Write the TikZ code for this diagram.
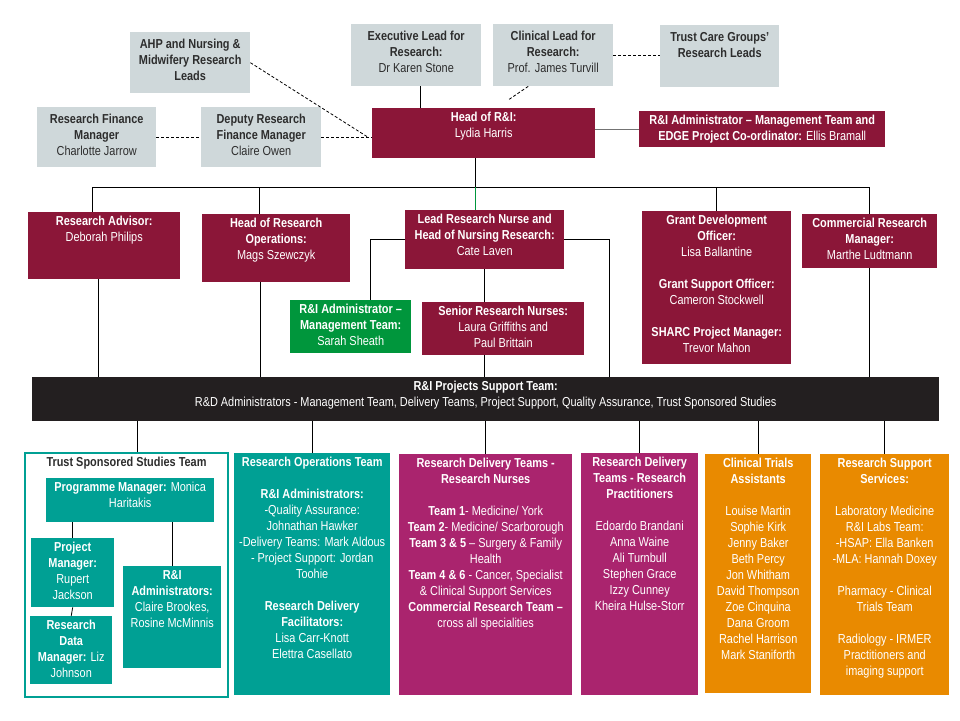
\documentclass[tikz,border=0pt]{standalone}
\usepackage{fontspec}
\setmainfont{Liberation Sans}[FakeStretch=0.84]
\usetikzlibrary{positioning}
\definecolor{maroon}{RGB}{139,22,56}
\definecolor{greybox}{RGB}{207,216,218}
\definecolor{admgreen}{RGB}{0,150,60}
\definecolor{tssteal}{RGB}{0,160,148}
\definecolor{plum}{RGB}{170,36,110}
\definecolor{amber}{RGB}{233,138,0}
\definecolor{barblack}{RGB}{35,31,32}
\definecolor{greytext}{RGB}{45,45,45}
\newcommand{\boxtext}[3]{\parbox[t][#2][t]{#1}{\centering #3}}
\tikzstyle{box} = [draw=none, anchor=north west, inner xsep=1pt, inner ysep=4pt, font=\fontsize{13}{16}\selectfont, text=white]
\tikzstyle{mgt} = [box, fill=maroon]
\tikzstyle{adv} = [box, fill=greybox, text=greytext, inner ysep=7pt]
\tikzstyle{tss} = [box, fill=tssteal]
\tikzstyle{del} = [box, fill=plum]
\tikzstyle{cta} = [box, fill=amber]
\tikzstyle{link} = [draw=black, line width=0.8pt]
\tikzstyle{dlink} = [link, dash pattern=on 3pt off 2pt]

\begin{document}
\begin{tikzpicture}[x=1pt,y=-1pt]
\useasboundingbox (0,0) rectangle (960,720);

% advisory boxes
\node[adv] (ahp) at (130,32) {\boxtext{118pt}{47pt}{\textbf{AHP and Nursing \&\\Midwifery Research\\Leads}}};
\node[adv] (exec) at (351,24) {\boxtext{128pt}{48pt}{\textbf{Executive Lead for\\Research:}\\Dr Karen Stone}};
\node[adv] (clin) at (493,24) {\boxtext{118pt}{48pt}{\textbf{Clinical Lead for\\Research:}\\Prof. James Turvill}};
\node[adv] (tcg) at (660,25) {\boxtext{117pt}{48pt}{\textbf{Trust Care Groups'\\Research Leads}}};
\node[adv] (rfm) at (37,107) {\boxtext{117pt}{46pt}{\textbf{Research Finance\\Manager}\\Charlotte Jarrow}};
\node[adv] (drfm) at (201,107) {\boxtext{118pt}{46pt}{\textbf{Deputy Research\\Finance Manager}\\Claire Owen}};

% management
\node[mgt] (hri) at (372,108) {\boxtext{221pt}{42pt}{\textbf{Head of R\&I:}\\Lydia Harris}};
\node[mgt] (edge) at (639,111) {\boxtext{244pt}{28pt}{\textbf{R\&I Administrator -- Management Team and\\EDGE Project Co-ordinator:} Ellis Bramall}};
\node[mgt] (radv) at (28,212) {\boxtext{150pt}{59pt}{\textbf{Research Advisor:}\\Deborah Philips}};
\node[mgt] (hro) at (202,214) {\boxtext{146pt}{60pt}{\textbf{Head of Research\\Operations:}\\Mags Szewczyk}};
\node[mgt] (lrn) at (405,210) {\boxtext{157pt}{51pt}{\textbf{Lead Research Nurse and\\Head of Nursing Research:}\\Cate Laven}};
\node[box, fill=admgreen] (adm) at (290,300) {\boxtext{119pt}{45pt}{\textbf{R\&I Administrator --\\Management Team:}\\Sarah Sheath}};
\node[mgt] (srn) at (422,302) {\boxtext{160pt}{45pt}{\textbf{Senior Research Nurses:}\\Laura Griffiths and\\Paul Brittain}};
\node[mgt] (gdo) at (642,211) {\boxtext{147pt}{145pt}{\textbf{Grant Development\\Officer:}\\Lisa Ballantine\\[16pt]\textbf{Grant Support Officer:}\\Cameron Stockwell\\[16pt]\textbf{SHARC Project Manager:}\\Trevor Mahon}};
\node[mgt] (crm) at (802,214) {\boxtext{133pt}{46pt}{\textbf{Commercial Research\\Manager:}\\Marthe Ludtmann}};

\node[box, fill=barblack] (bar) at (32,377) {\boxtext{905pt}{36pt}{\textbf{R\&I Projects Support Team:}\\R\&D Administrators - Management Team, Delivery Teams, Project Support, Quality Assurance, Trust Sponsored Studies}};

% teams
\node[box, fill=white, draw=tssteal, line width=2pt, text=greytext] (tsst) at (24,452) {\boxtext{201pt}{236pt}{\textbf{Trust Sponsored Studies Team}}};
\node[tss] (pgm) at (46,478) {\boxtext{166pt}{36pt}{\textbf{Programme Manager:} Monica\\Haritakis}};
\node[tss] (prj) at (31,538) {\boxtext{81pt}{61pt}{\textbf{Project\\Manager:}\\Rupert\\Jackson}};
\node[tss] (rdm) at (30,616) {\boxtext{80pt}{60pt}{\textbf{Research\\Data\\Manager:} Liz\\Johnson}};
\node[tss] (ria) at (123,566) {\boxtext{96pt}{94pt}{\textbf{R\&I\\Administrators:}\\Claire Brookes,\\Rosine McMinnis}};

\node[tss] (rot) at (234,453) {\boxtext{154pt}{234pt}{\textbf{Research Operations Team}\\[16pt]\textbf{R\&I Administrators:}\\-Quality Assurance:\\Johnathan Hawker\\-Delivery Teams: Mark Aldous\\- Project Support: Jordan\\Toohie\\[16pt]\textbf{Research Delivery\\Facilitators:}\\Lisa Carr-Knott\\Elettra Casellato}};
\node[del] (rdt) at (399,454) {\boxtext{171pt}{233pt}{\textbf{Research Delivery Teams -\\Research Nurses}\\[16pt]\textbf{Team 1}- Medicine/ York\\\textbf{Team 2}- Medicine/ Scarborough\\\textbf{Team 3 \& 5} -- Surgery \& Family\\Health\\\textbf{Team 4 \& 6} - Cancer, Specialist\\\& Clinical Support Services\\\textbf{Commercial Research Team --}\\cross all specialities}};
\node[del] (rdp) at (581,453) {\boxtext{115pt}{234pt}{\textbf{Research Delivery\\Teams - Research\\Practitioners}\\[16pt]Edoardo Brandani\\Anna Waine\\Ali Turnbull\\Stephen Grace\\Izzy Cunney\\Kheira Hulse-Storr}};
\node[cta] (cta) at (705,454) {\boxtext{104pt}{231pt}{\textbf{Clinical Trials\\Assistants}\\[16pt]Louise Martin\\Sophie Kirk\\Jenny Baker\\Beth Percy\\Jon Whitham\\David Thompson\\Zoe Cinquina\\Dana Groom\\Rachel Harrison\\Mark Staniforth}};
\node[cta] (rss) at (820,454) {\boxtext{127pt}{233pt}{\textbf{Research Support\\Services:}\\[16pt]Laboratory Medicine\\R\&I Labs Team:\\-HSAP: Ella Banken\\-MLA: Hannah Doxey\\[16pt]Pharmacy - Clinical\\Trials Team\\[16pt]Radiology - IRMER\\Practitioners and\\imaging support}};

% top links
\draw[link] ([xshift=4pt]exec.south) -- ([xshift=4pt]exec.south |- hri.north);
\draw[dlink] ([xshift=-25pt]clin.south) -- ([xshift=-45pt,yshift=8pt]clin.south |- hri.north);
\draw[dlink] (clin.east) -- (clin.east -| tcg.west);
\draw[dlink] (ahp.east) -- ([xshift=-4pt,yshift=-4pt]hri.west);
\draw[dlink] (rfm.east) -- (drfm.west);
\draw[dlink] (drfm.east) -- (drfm.east -| hri.west);
\draw[link, draw=black!55] (edge.west -| hri.east) -- (edge.west);

% bus
\coordinate (busL) at (92,187);
\coordinate (busR) at (869,187);
\coordinate (hriB) at ([xshift=-8pt]hri.south);
\draw[link] (busL) -- (busR);
\draw[link] (hriB) -- (hriB |- busL);
\draw[link, draw=admgreen] (hriB |- busL) -- (hriB |- lrn.north);
\draw[link] (busL) -- (busL |- radv.north);
\draw[link] ([xshift=-17pt]hro.north |- busL) -- ([xshift=-17pt]hro.north);
\draw[link] (gdo.north |- busL) -- (gdo.north);
\draw[link] (busR) -- (busR |- crm.north);

% down to support team
\draw[link] (lrn.south) -- (lrn.south |- srn.north);
\draw[link] (lrn.west) -| ([xshift=20pt]adm.north);
\draw[link] (lrn.east) -| (bar.north -| 609,0);
\draw[link] (srn.south -| lrn.south) -- (bar.north -| lrn.south);
\draw[link] ([xshift=-6pt]radv.south) -- ([xshift=-6pt]radv.south |- bar.north);
\draw[link] ([xshift=-16pt]hro.south) -- ([xshift=-16pt]hro.south |- bar.north);
\draw[link] (crm.south) -- (crm.south |- bar.north);

% teams
\draw[link] ([xshift=11pt]tsst.north |- bar.south) -- ([xshift=11pt]tsst.north);
\draw[link] (rot.north |- bar.south) -- (rot.north);
\draw[link] (rdt.north |- bar.south) -- (rdt.north);
\draw[link] (rdp.north |- bar.south) -- (rdp.north);
\draw[link] (cta.north |- bar.south) -- (cta.north);
\draw[link] (rss.north |- bar.south) -- (rss.north);
\draw[link] (prj.north |- pgm.south) -- (prj.north);
\draw[link] (ria.north |- pgm.south) -- (ria.north);
\draw[link] (prj.south) -- (rdm.north);

\end{tikzpicture}
\end{document}
